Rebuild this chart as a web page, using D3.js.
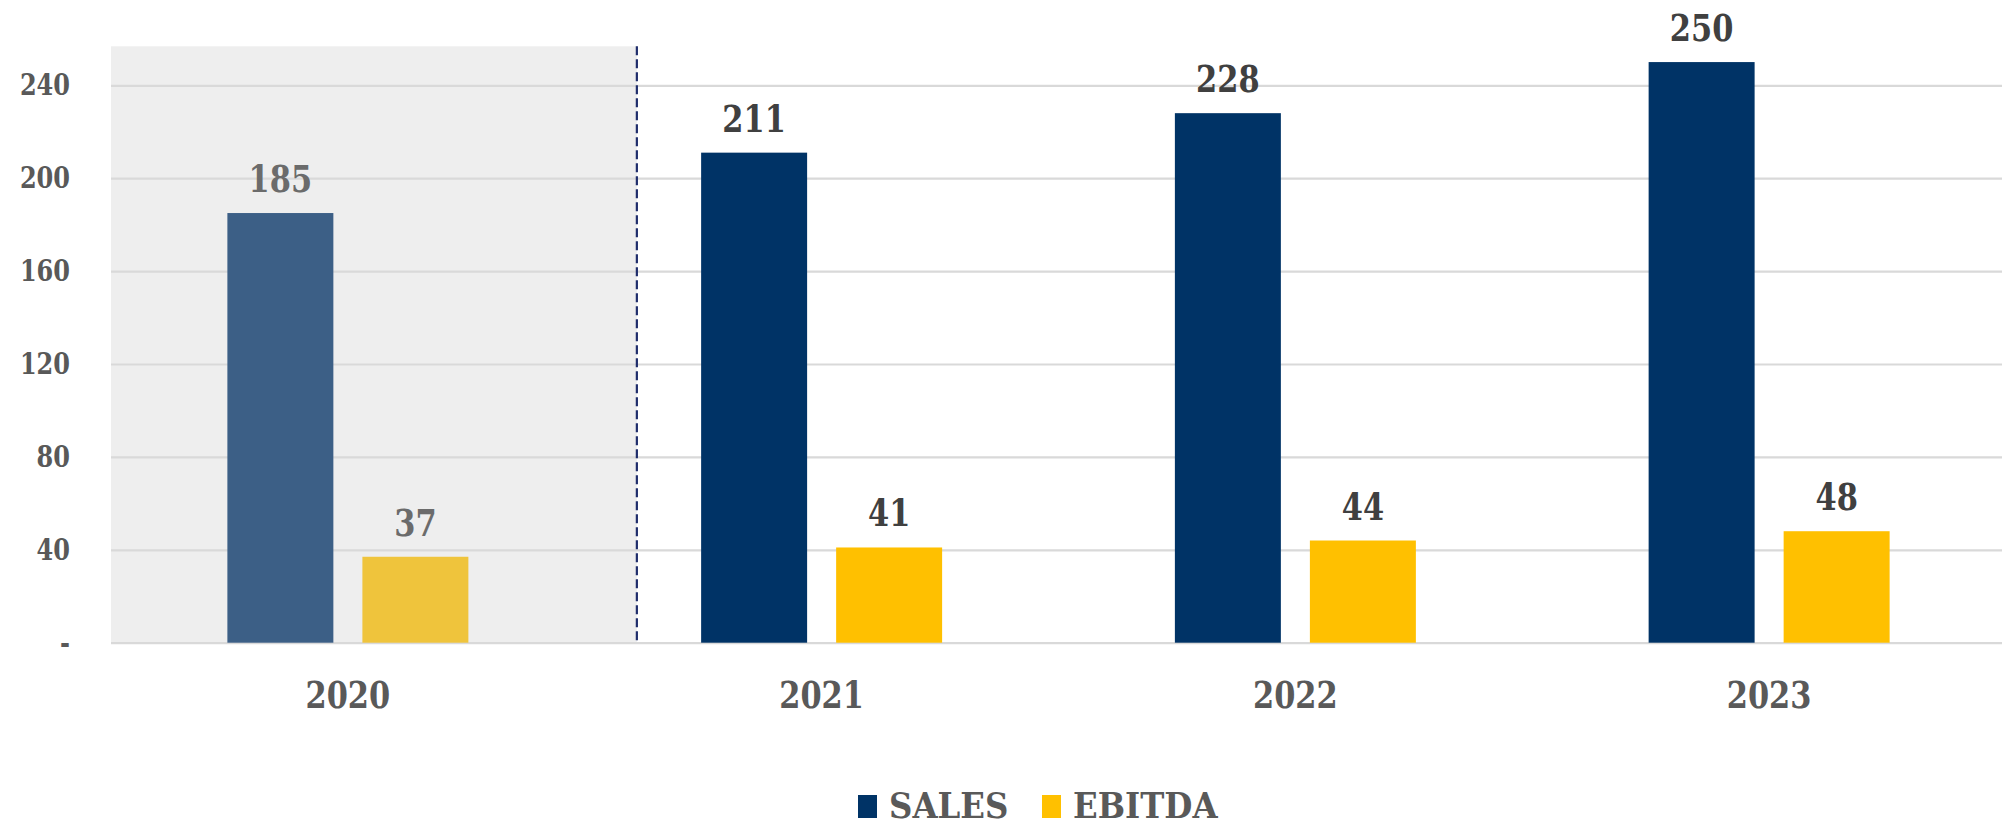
<!DOCTYPE html>
<html>
<head>
<meta charset="utf-8">
<script src="https://cdn.jsdelivr.net/npm/d3@7"></script>
<style>
  html, body { margin: 0; padding: 0; background: #fff; }
  svg { display: block; }
  text { font-family: "DejaVu Serif Condensed", "DejaVu Serif", serif; font-weight: bold; }
</style>
</head>
<body>
<svg id="chart" width="2002" height="827"></svg>
<script>
// chart data
const years = ["2020", "2021", "2022", "2023"]
const series = ["SALES", "EBITDA"]
const sales = [185, 211, 228, 250]
const ebitda = [37, 41, 44, 48]
const yTicks = [0, 40, 80, 120, 160, 200, 240]
const actualYear = "2020"   // shaded, faded group

const width = 2002
const height = 827
const left = 111
const right = 2006
const zeroY = 642.7
const topY = 85.3
const squeeze = 0.89   // narrower glyphs, like the condensed slab font of the original

const colors = { SALES: "#003366", EBITDA: "#ffc000" }
const fadedColors = { SALES: "#3c5f86", EBITDA: "#efc43c" }

const rows = years.map((yr, i) => ({ year: yr, SALES: sales[i], EBITDA: ebitda[i] }))

const svg = d3.select("#chart")

const x0 = d3.scaleBand().domain(years).range([left, right]).padding(0)
const x1 = d3.scaleBand().domain(series).range([0, x0.bandwidth()])
  .paddingInner(0.215).paddingOuter(0.862)
const y = d3.scaleLinear().domain([0, 240]).range([zeroY, topY])

// shaded "actual" area with the divider
const divider = x0("2021") + x0.step() * 0.11
svg.append("rect")
  .attr("x", x0(actualYear))
  .attr("y", y(240) - 39)
  .attr("width", divider - x0(actualYear))
  .attr("height", y(0) - y(240) + 39)
  .attr("fill", "#eeeeee")

// gridlines
const grid = svg.append("g")
  .attr("transform", `translate(${left},0)`)
  .call(d3.axisLeft(y).tickValues(yTicks).tickSize(-(width - left)).tickFormat(""))
grid.select(".domain").remove()
grid.selectAll("line").attr("stroke", "#d9d9d9").attr("stroke-width", 2.2)

// y labels
const yAxis = svg.append("g")
  .attr("transform", `translate(${left},0)`)
  .call(d3.axisLeft(y).tickValues(yTicks).tickSize(0).tickPadding(41)
    .tickFormat(d => d === 0 ? "-" : d))
yAxis.select(".domain").remove()
yAxis.selectAll("text")
  .attr("font-family", "DejaVu Serif Condensed")
  .attr("font-weight", "bold")
  .attr("font-size", 30)
  .attr("fill", "#595959")
  .attr("x", -41 / squeeze)
  .attr("transform", `scale(${squeeze},1)`)

// bars
const groups = svg.selectAll("g.year")
  .data(rows)
  .enter()
  .append("g")
  .attr("class", "year")
  .attr("transform", d => `translate(${x0(d.year)},0)`)

groups.selectAll("rect")
  .data(d => series.map(s => ({ key: s, value: d[s], year: d.year })))
  .enter()
  .append("rect")
  .attr("x", d => x1(d.key))
  .attr("y", d => y(d.value))
  .attr("width", x1.bandwidth())
  .attr("height", d => y(0) - y(d.value))
  .attr("fill", d => d.year === actualYear ? fadedColors[d.key] : colors[d.key])

groups.selectAll("text.val")
  .data(d => series.map(s => ({ key: s, value: d[s], year: d.year })))
  .enter()
  .append("text")
  .attr("class", "val")
  .attr("transform", d => `translate(${x1(d.key) + x1.bandwidth() / 2},${y(d.value) - 21}) scale(${squeeze},1)`)
  .attr("text-anchor", "middle")
  .attr("font-size", 38)
  .attr("fill", d => d.year === actualYear ? "#6b6b6b" : "#404040")
  .text(d => d.value)

// dashed divider
svg.append("line")
  .attr("x1", divider).attr("x2", divider)
  .attr("y1", y(240) - 39).attr("y2", y(0))
  .attr("stroke", "#1f2d6b")
  .attr("stroke-width", 2.2)
  .attr("stroke-dasharray", "9,4")

// x labels
const xAxis = svg.append("g")
  .attr("transform", `translate(0,${zeroY})`)
  .call(d3.axisBottom(x0).tickSize(0).tickPadding(38))
xAxis.select(".domain").remove()
xAxis.selectAll("text")
  .attr("font-family", "DejaVu Serif Condensed")
  .attr("font-weight", "bold")
  .attr("font-size", 38)
  .attr("fill", "#595959")
  .attr("transform", `scale(${squeeze},1)`)

// legend
const legend = svg.append("g").attr("transform", "translate(858,818)")
const legendX = d3.scaleOrdinal().domain(series).range([0, 184])
const item = legend.selectAll("g")
  .data(series)
  .enter()
  .append("g")
  .attr("transform", d => `translate(${legendX(d)},0)`)
item.append("rect")
  .attr("x", 0).attr("y", -23)
  .attr("width", 19).attr("height", 23)
  .attr("fill", d => colors[d])
item.append("text")
  .attr("x", 31).attr("y", 0)
  .attr("font-size", 36)
  .attr("fill", "#595959")
  .text(d => d)
</script>
</body>
</html>
